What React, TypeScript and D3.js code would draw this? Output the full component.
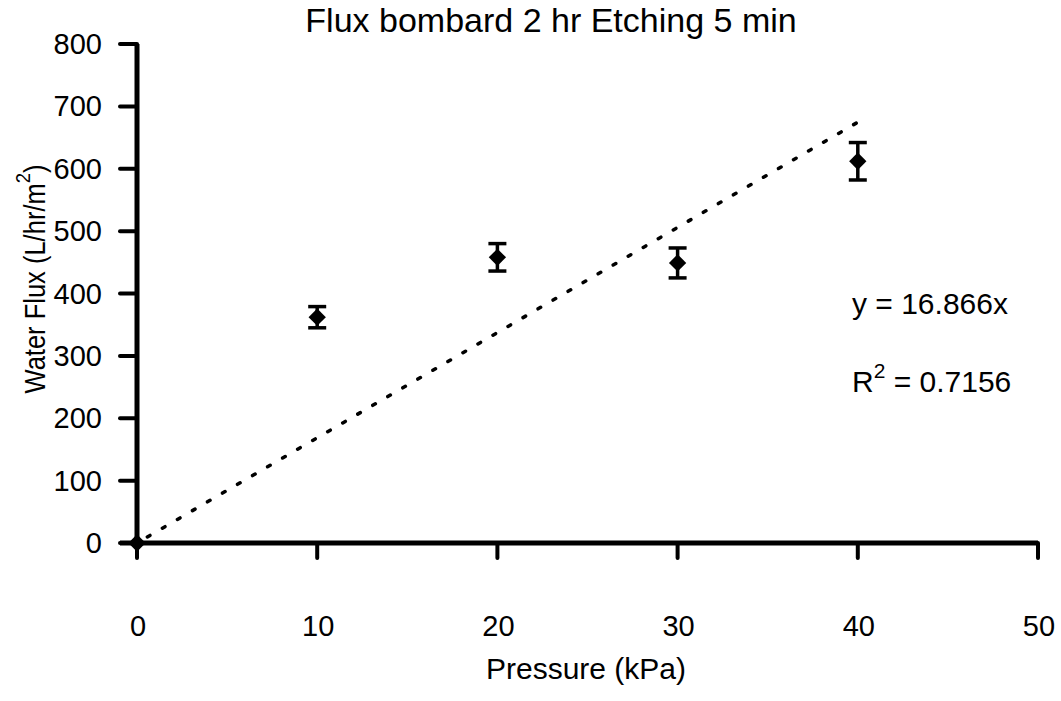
import React from "react";
import * as d3 from "d3";

const pressure = [0, 10, 20, 30, 40];
const flux = [0, 362, 458, 449, 612];
const fluxErr = [0, 17, 22, 24, 30];
const xTicks = [0, 10, 20, 30, 40, 50];
const yTicks = [0, 100, 200, 300, 400, 500, 600, 700, 800];
const slope = 16.866;
const title = "Flux bombard 2 hr Etching 5 min";

export default function App() {
  const W = 1061, H = 701;
  const x = d3.scaleLinear().domain([0, 50]).range([137, 1038]);
  const y = d3.scaleLinear().domain([0, 800]).range([543, 44]);
  const font = "'Liberation Sans', Arial, sans-serif";
  const marker = d3.symbol().type(d3.symbolSquare).size(150);
  const trend = d3.line<number>().x((d) => x(d)).y((d) => y(slope * d));
  return (
    <svg width={W} height={H} style={{ position: "absolute", left: 0, top: 0, background: "#fff" }} fontFamily={font}>
      <rect width={W} height={H} fill="#fff" />
      <text x={551} y={32} fontSize={34} textAnchor="middle">{title}</text>
      {/* trend line */}
      <path d={trend([0, 40]) || ""} fill="none" stroke="#000" strokeWidth={3.5} strokeDasharray="3 14.4" strokeDashoffset={-12} strokeLinecap="round" />
      {/* axes */}
      <line x1={x(0)} x2={x(0)} y1={y(800)} y2={y(0)} stroke="#000" strokeWidth={5} />
      <line x1={x(0) - 17} x2={x(50)} y1={y(0)} y2={y(0)} stroke="#000" strokeWidth={5} />
      {yTicks.map((t) => (
        <g key={"y" + t}>
          <line x1={x(0) - 17} x2={x(0)} y1={y(t)} y2={y(t)} stroke="#000" strokeWidth={4} strokeLinecap="round" />
          <text x={102} y={y(t) + 10} fontSize={29} textAnchor="end">{t}</text>
        </g>
      ))}
      {xTicks.map((t) => (
        <g key={"x" + t}>
          <line x1={x(t)} x2={x(t)} y1={y(0)} y2={y(0) + 15} stroke="#000" strokeWidth={4} strokeLinecap="round" />
          <text x={x(t) + 1} y={636} fontSize={29} textAnchor="middle">{t}</text>
        </g>
      ))}
      <text x={586} y={679} fontSize={30} textAnchor="middle">Pressure (kPa)</text>
      <g transform="translate(45,279) rotate(-90) scale(0.88,1)">
        <text x={0} y={0} fontSize={29} textAnchor="middle">
          Water Flux (L/hr/m<tspan dy={-15} fontSize={21}>2</tspan><tspan dy={15}>)</tspan>
        </text>
      </g>
      {/* error bars and points */}
      {pressure.map((p, i) => (
        <g key={"p" + i}>
          {fluxErr[i] > 0 && (
            <g stroke="#000" strokeWidth={3.5}>
              <line x1={x(p)} x2={x(p)} y1={y(flux[i] - fluxErr[i])} y2={y(flux[i] + fluxErr[i])} />
              <line x1={x(p) - 9} x2={x(p) + 9} y1={y(flux[i] - fluxErr[i])} y2={y(flux[i] - fluxErr[i])} />
              <line x1={x(p) - 9} x2={x(p) + 9} y1={y(flux[i] + fluxErr[i])} y2={y(flux[i] + fluxErr[i])} />
            </g>
          )}
          <path d={marker() || ""} transform={`translate(${x(p)},${y(flux[i])}) rotate(45)`} fill="#000" />
        </g>
      ))}
      <text x={852} y={314} fontSize={30}>y = 16.866x</text>
      <text x={852} y={392} fontSize={30}>
        R<tspan dy={-14} fontSize={21}>2</tspan><tspan dy={14}> = 0.7156</tspan>
      </text>
    </svg>
  );
}
